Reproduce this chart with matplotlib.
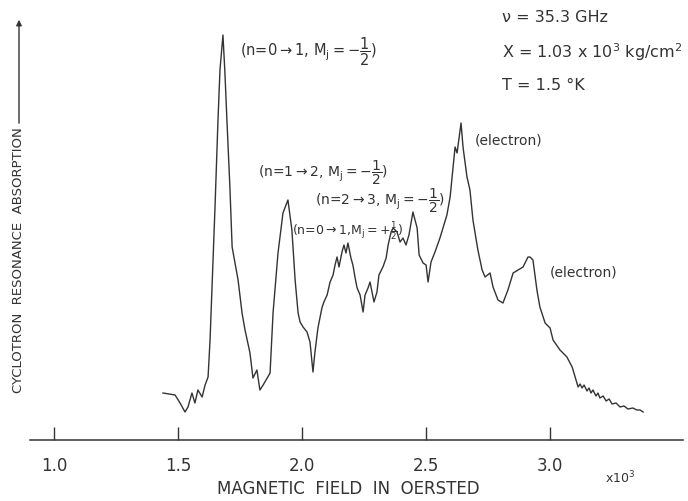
import matplotlib
matplotlib.use('Agg')
import matplotlib.pyplot as plt
from matplotlib.patches import FancyArrowPatch

plt.rcParams['mathtext.default'] = 'regular'

campo = [
    1.438, 1.487, 1.507, 1.527, 1.539, 1.555, 1.567, 1.579, 1.596, 1.608,
    1.620, 1.628, 1.636, 1.648, 1.660, 1.668, 1.680, 1.688, 1.696, 1.708,
    1.717, 1.741, 1.757, 1.769, 1.789, 1.801, 1.817, 1.829, 1.842, 1.870,
    1.882, 1.902, 1.922, 1.942, 1.958, 1.971, 1.983,
    1.991, 2.003, 2.019, 2.031, 2.043, 2.051, 2.063, 2.079, 2.087, 2.100,
    2.112, 2.124, 2.132, 2.140, 2.148, 2.160, 2.168, 2.176, 2.184, 2.196,
    2.204, 2.213, 2.221, 2.233, 2.245, 2.253, 2.265, 2.273, 2.281, 2.289,
    2.301, 2.309, 2.325, 2.338, 2.346, 2.358, 2.366, 2.382, 2.394, 2.406,
    2.418, 2.430, 2.446, 2.463, 2.471, 2.487, 2.499, 2.507, 2.519, 2.535,
    2.555, 2.571, 2.583,
    2.596, 2.608, 2.616, 2.624, 2.640, 2.648, 2.664, 2.676, 2.688, 2.708,
    2.725, 2.737, 2.757, 2.769, 2.789, 2.809, 2.829, 2.850, 2.870, 2.890,
    2.910, 2.918, 2.930, 2.946, 2.958, 2.979, 2.999, 3.011, 3.039, 3.067,
    3.088, 3.100, 3.112,
    3.120, 3.128, 3.136, 3.148, 3.156, 3.164, 3.172, 3.184, 3.192, 3.200,
    3.213, 3.225, 3.237, 3.249, 3.265, 3.281, 3.297, 3.313, 3.333, 3.349,
    3.362, 3.374,
]
absorcao = [
    47, 45, 37, 28, 33, 47, 37, 50, 43, 55,
    63, 100, 153, 233, 320, 370, 405, 367, 320, 253,
    193, 160, 127, 110, 87, 62, 70, 50, 55, 67,
    127, 187, 227, 240, 210, 160, 127,
    118, 113, 108, 98, 68, 88, 112, 132, 138, 145,
    158, 165, 175, 183, 173, 188, 195, 187, 197, 182,
    175, 162, 152, 145, 128, 145, 152, 158, 148, 138,
    148, 165, 173, 182, 195, 208, 212, 208, 198, 202,
    195, 205, 228, 212, 185, 177, 175, 158, 178, 188,
    202, 215, 225,
    243, 273, 293, 287, 317, 293, 263, 250, 220, 190,
    170, 163, 167, 153, 140, 137, 150, 167, 170, 173,
    183, 183, 180, 150, 133, 117, 112, 100, 90, 83,
    73, 63, 53,
    56, 52, 55, 49, 52, 47, 50, 44, 47, 42,
    44, 39, 41, 36, 37, 33, 34, 31, 32, 30,
    30, 28,
]

ticks = [1.0, 1.5, 2.0, 2.5, 3.0]
tick_labels = ['1.0', '1.5', '2.0', '2.5', '3.0']

cor = '#333333'

fig = plt.figure(figsize=(6.88, 5.01), dpi=100)
ax = fig.add_axes([30 / 688, 61 / 501, 653 / 688, 440 / 501])

ax.plot(campo, absorcao, color=cor, lw=1.0)

ax.set_xlim(0.902, 3.535)
ax.set_ylim(0, 440)
ax.spines[['top', 'right', 'left']].set_visible(False)
ax.spines['bottom'].set_color(cor)
ax.spines['bottom'].set_linewidth(1.1)
ax.set_yticks([])
ax.set_xticks(ticks)
ax.set_xticklabels(tick_labels, fontsize=12, color=cor)
ax.tick_params(axis='x', direction='in', length=9.5, width=1, color=cor, pad=12)

# rotulos dos picos
ax.text(1.749, 388, r'(n=0$\rightarrow$1, $M_j=-\dfrac{1}{2}$)', fontsize=10.5, color=cor, va='center')
ax.text(1.821, 267, r'(n=1$\rightarrow$2, $M_j=-\dfrac{1}{2}$)', fontsize=10, color=cor, va='center')
ax.text(2.051, 239, r'(n=2$\rightarrow$3, $M_j=-\dfrac{1}{2}$)', fontsize=10, color=cor, va='center')
ax.text(1.958, 209, r'(n=0$\rightarrow$1,$M_j=+\frac{1}{2}$)', fontsize=9, color=cor, va='center')
ax.text(2.697, 300, '(electron)', fontsize=10, color=cor, va='center')
ax.text(2.999, 167, '(electron)', fontsize=10, color=cor, va='center')

# parametros
ax.text(2.806, 422, 'ν = 35.3 GHz', fontsize=11.5, color=cor, va='center')
ax.text(2.806, 388, r'X = 1.03 x 10$^3$ kg/cm$^2$', fontsize=11.5, color=cor, va='center')
ax.text(2.806, 355, 'T = 1.5 °K', fontsize=11.5, color=cor, va='center')

ax.text(3.281, -38, r'x10$^3$', fontsize=9, color=cor, ha='center', va='center', clip_on=False)

fig.text(348 / 688, 1 - 489 / 501, 'MAGNETIC  FIELD  IN  OERSTED', fontsize=12,
         color=cor, ha='center', va='center')

fig.text(19 / 688, 1 - 260 / 501, 'CYCLOTRON  RESONANCE  ABSORPTION', fontsize=9.5,
         color=cor, rotation=90, ha='center', va='center')
fig.patches.append(FancyArrowPatch(
    (19 / 688, 1 - 126 / 501), (19 / 688, 1 - 17 / 501), transform=fig.transFigure,
    arrowstyle='-|>', mutation_scale=8, color=cor, lw=1))

fig.savefig('out.png', dpi=100)
